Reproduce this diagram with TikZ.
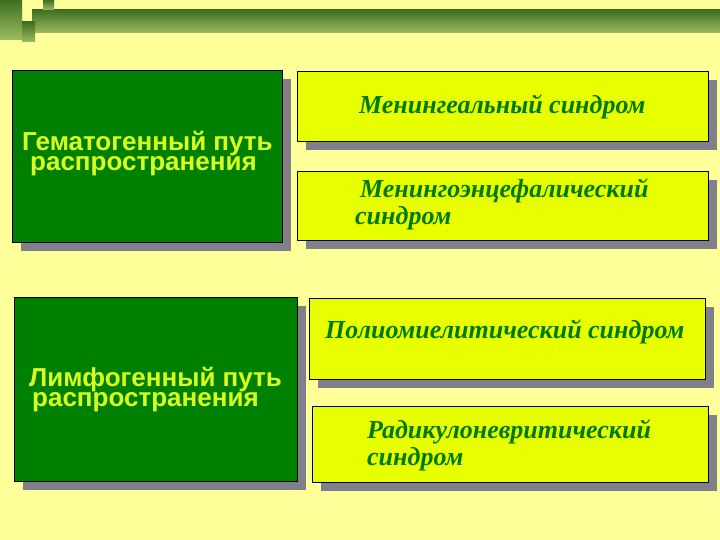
\documentclass[tikz,border=0pt]{standalone}
\usepackage{fontspec}
\setmainfont{Liberation Serif}
\setsansfont{Liberation Sans}
\usetikzlibrary{shadows}
\definecolor{pagebg}{HTML}{FFFF99}
\definecolor{pathgreen}{HTML}{008000}
\definecolor{pathtxt}{HTML}{D8FF20}
\definecolor{syndyellow}{HTML}{E8FF00}
\definecolor{syndtxt}{HTML}{007A00}
\definecolor{shadowgray}{HTML}{80808A}
\definecolor{decodark}{HTML}{3F6F22}
\definecolor{decolight}{HTML}{9CBC60}

\begin{document}
\begin{tikzpicture}[x=1pt,y=-1pt]
\tikzset{
  boxed/.style={draw=black, line width=0.8pt, inner sep=0pt, anchor=north west,
    drop shadow={shadow xshift=9pt, shadow yshift=-9pt, fill=shadowgray, opacity=1}},
  pathbox/.style={boxed, fill=pathgreen},
  syndbox/.style={boxed, fill=syndyellow},
  pathlabel/.style={anchor=base west, inner sep=0pt, align=left, text=pathtxt,
    font=\sffamily\bfseries\fontsize{26}{20}\selectfont},
  syndlabel/.style={anchor=base west, inner sep=0pt, align=left, text=syndtxt,
    font=\bfseries\itshape\fontsize{26}{27}\selectfont}
}
% Background
\fill[pagebg] (0,0) rectangle (720,540);
\useasboundingbox (0,0) rectangle (720,540);
% Top decoration
\shade[top color=decodark, bottom color=decolight] (32,10) rectangle (720,33);
\shade[top color=decodark, bottom color=decolight] (0,0) rectangle (22,40);
\shade[top color=decodark, bottom color=decolight] (22,22) rectangle (35,42);
\shade[top color=decodark, bottom color=decolight] (43,0) rectangle (54,10);
% Boxes
\foreach \n/\x/\y/\w/\h in {hemat/12/70/270/172, lymph/14/297/283/184}
  \node[pathbox, minimum width=\w pt, minimum height=\h pt] (\n) at (\x,\y) {};
\foreach \n/\x/\y/\w/\h in {mening/297/71/411/70, enceph/297/171/411/69,
                            polio/309/298/396/81, radic/312/406/396/76}
  \node[syndbox, minimum width=\w pt, minimum height=\h pt] (\n) at (\x,\y) {};
% Text (base = last line)
\node[pathlabel] (hematText) at (22,171) {Гематогенный путь\\\hspace*{8pt}распространения};
\node[pathlabel] (lymphText) at (29,406) {Лимфогенный путь\\\hspace*{3pt}распространения};
\node[syndlabel] (meningText) at (359,114) {Менингеальный синдром};
\node[syndlabel] (encephText) at (355,225) {\hspace*{5pt}Менингоэнцефалический\\синдром};
\node[syndlabel] (polioText) at (325,338) {Полиомиелитический синдром};
\node[syndlabel] (radicText) at (367,465) {Радикулоневритический\\синдром};
\end{tikzpicture}
\end{document}
